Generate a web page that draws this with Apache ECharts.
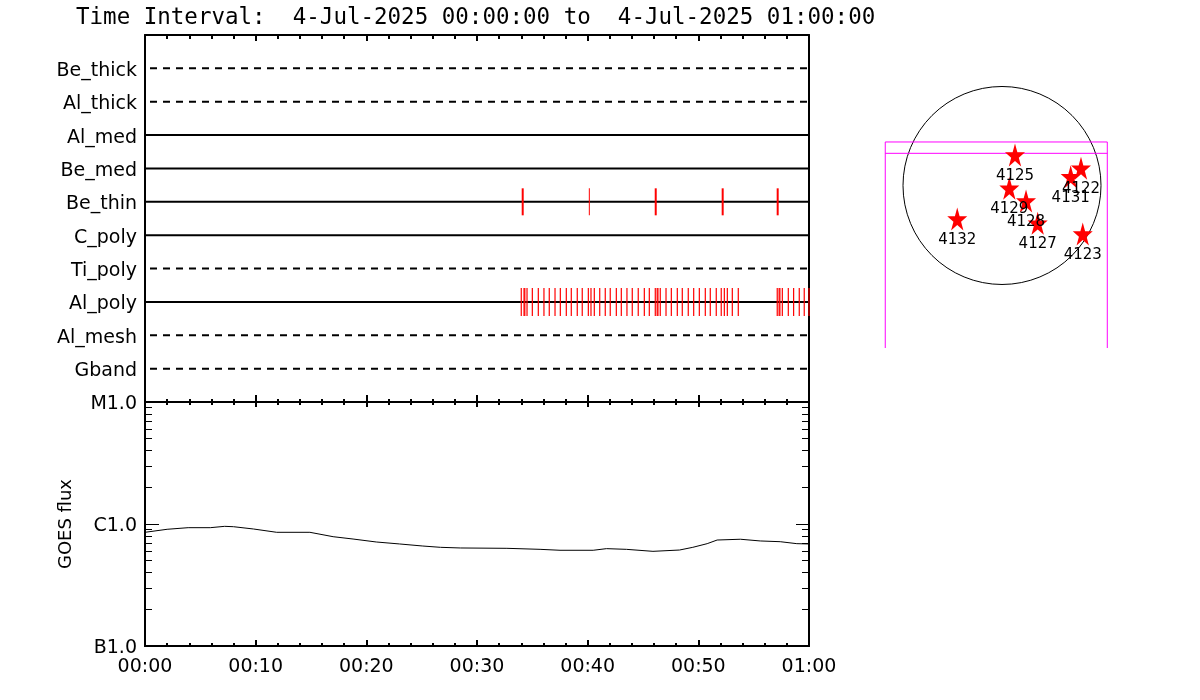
<!DOCTYPE html>
<html>
<head>
<meta charset="utf-8">
<title>Channel events and GOES flux, 4-Jul-2025</title>
<script src="https://cdn.jsdelivr.net/npm/echarts@6/dist/echarts.min.js"></script>
<style>
  html, body { margin: 0; padding: 0; background: #fff; }
  #chart { width: 1200px; height: 700px; }
</style>
</head>
<body>
<div id="chart"></div>
<script>
// channel rows, top to bottom; dashed rows have no data
const channels = ['Be_thick', 'Al_thick', 'Al_med', 'Be_med', 'Be_thin', 'C_poly', 'Ti_poly', 'Al_poly', 'Al_mesh', 'Gband'];
const channelHasData = [false, false, true, true, true, true, false, true, false, false];

// event times in minutes after 00:00
const beThinTimes = [34.13, 46.15, 52.2, 57.17];
const beThinWeakTimes = [40.15];
const alPolyTimes = [34.0, 34.25, 34.32, 34.52, 35.0, 35.54, 36.05, 36.53, 37.05, 37.53, 38.07, 38.52,
  39.06, 39.51, 40.06, 40.3, 40.6, 41.09, 41.59, 42.04, 42.59, 43.04, 43.55, 44.03, 44.57, 45.12,
  45.57, 46.11, 46.28, 46.35, 46.56, 47.08, 47.56, 48.1, 48.55, 49.09, 49.58, 50.09, 50.63, 51.08,
  51.62, 52.07, 52.35, 52.62, 53.07, 53.61, 57.13, 57.3, 57.37, 57.59, 58.13, 58.61, 59.12, 59.57, 60.0];

// GOES flux (W/m^2)
const goesTime = [0, 2, 3.9, 5.9, 7.2, 8, 9.8, 11.9, 14.9, 17, 18.8, 20.9, 23, 25.1, 26.7, 28.5,
  32.7, 35.7, 37.5, 40.5, 41.7, 43.5, 45.9, 48.3, 49.5, 50.8, 51.7, 53.8, 55.6, 57.4, 58.9, 60];
const goesFlux = [8.55e-7, 9.05e-7, 9.33e-7, 9.33e-7, 9.57e-7, 9.5e-7, 9.1e-7, 8.55e-7, 8.55e-7, 7.87e-7,
  7.53e-7, 7.12e-7, 6.86e-7, 6.6e-7, 6.44e-7, 6.36e-7, 6.32e-7, 6.2e-7, 6.09e-7, 6.09e-7, 6.28e-7,
  6.2e-7, 5.97e-7, 6.12e-7, 6.44e-7, 6.9e-7, 7.39e-7, 7.5e-7, 7.26e-7, 7.16e-7, 6.9e-7, 6.86e-7];
const goesLevels = {'-7': 'B1.0', '-6': 'C1.0', '-5': 'M1.0'};

// active regions on the disc (arcsec)
const arNames = ['4125', '4122', '4131', '4129', '4128', '4127', '4132', '4123'];
const arX = [126, 766, 666, 71, 233, 346, -434, 783];
const arY = [296, 167, 85, -27, -150, -367, -325, -470];
const sunRadius = 960;
// field of view box (arcsec)
const fovLeft = -1132, fovRight = 1021, fovTop = 422, fovInner = 312, fovBottom = -1576;

const font = 'DejaVu Sans';
const starPath = 'path://M0,-1L0.2245,-0.309L0.951,-0.309L0.363,0.118L0.588,0.809L0,0.382L-0.588,0.809L-0.363,0.118L-0.951,-0.309L-0.2245,-0.309Z';
// labels sit a little low, like the original
const lowLabel = { r: { color: '#000', fontFamily: font, fontSize: 19, padding: [5, 0, 0, 0] } };

function rowValue(i) { return channels.length - i; }

function minuteLabel(v) {
  if (v >= 60) return '01:00';
  return '00:' + String(v).padStart(2, '0');
}

// log minor tick values inside the plotted decades
const goesMajor = [-7, -6, -5];
const goesMinor = [];
[-7, -6].forEach(d => { for (let k = 2; k <= 9; k++) goesMinor.push(d + Math.log10(k)); });

function timeAxis(grid, pos, tickLen, minorLen, showLabel) {
  return {
    type: 'value', gridIndex: grid, position: pos, min: 0, max: 60, interval: 10,
    axisLine: { onZero: false, lineStyle: { color: '#000', width: 2 } },
    axisTick: { inside: true, length: tickLen, lineStyle: { color: '#000', width: 2 } },
    minorTick: { show: true, splitNumber: 5, length: minorLen, lineStyle: { color: '#000', width: 2 } },
    axisLabel: { show: showLabel, formatter: minuteLabel, color: '#000', fontFamily: font, fontSize: 19, margin: 12 },
    splitLine: { show: false }
  };
}

function fluxAxis(pos, ticks, len, extra) {
  return Object.assign({
    type: 'value', gridIndex: 1, position: pos, min: -7, max: -5, interval: 1,
    axisLine: { onZero: false, lineStyle: { color: '#000', width: 2 } },
    axisTick: { inside: true, customValues: ticks, length: len, lineStyle: { color: '#000', width: 1 } },
    axisLabel: { show: false },
    splitLine: { show: false }
  }, extra || {});
}

const series = [];

channels.forEach((name, i) => {
  series.push({
    type: 'line', xAxisIndex: 0, yAxisIndex: 0, silent: true, symbol: 'none', z: 2,
    data: [[0, rowValue(i)], [60, rowValue(i)]],
    lineStyle: { color: '#000', width: 2, type: channelHasData[i] ? 'solid' : [7, 6], dashOffset: -5 }
  });
});

const beThinRow = rowValue(channels.indexOf('Be_thin'));
const alPolyRow = rowValue(channels.indexOf('Al_poly'));

series.push({
  type: 'scatter', xAxisIndex: 0, yAxisIndex: 0, symbol: 'rect', symbolSize: [2, 27], z: 3, silent: true,
  itemStyle: { color: '#ff0000', opacity: 1 }, data: beThinTimes.map(t => [t, beThinRow])
});
series.push({
  type: 'scatter', xAxisIndex: 0, yAxisIndex: 0, symbol: 'rect', symbolSize: [1, 27], z: 3, silent: true,
  itemStyle: { color: '#ff0000', opacity: 1 }, data: beThinWeakTimes.map(t => [t, beThinRow])
});
series.push({
  type: 'scatter', xAxisIndex: 0, yAxisIndex: 0, symbol: 'rect', symbolSize: [1.2, 28], z: 3, silent: true,
  clip: false, itemStyle: { color: '#ff0000', opacity: 1 }, data: alPolyTimes.map(t => [t, alPolyRow])
});

// GOES curve, plotted as log10(flux) on a linear axis
series.push({
  type: 'line', xAxisIndex: 2, yAxisIndex: 2, symbol: 'none', silent: true,
  lineStyle: { color: '#000', width: 1 },
  data: goesTime.map((t, i) => [t, Math.log10(goesFlux[i])])
});

// solar disc
series.push({
  type: 'custom', xAxisIndex: 4, yAxisIndex: 6, silent: true,
  data: [[0, 0, sunRadius]],
  renderItem: function (params, api) {
    const c = api.coord([api.value(0), api.value(1)]);
    const r = api.size([api.value(2), 0])[0];
    return { type: 'circle', shape: { cx: c[0], cy: c[1], r: r }, style: { fill: 'none', stroke: '#000', lineWidth: 1 } };
  }
});

series.push({
  type: 'line', xAxisIndex: 4, yAxisIndex: 6, symbol: 'none', silent: true,
  lineStyle: { color: '#ff00ff', width: 1 },
  data: [[fovLeft, fovBottom], [fovLeft, fovTop], [fovRight, fovTop], [fovRight, fovBottom]]
});
series.push({
  type: 'line', xAxisIndex: 4, yAxisIndex: 6, symbol: 'none', silent: true,
  lineStyle: { color: '#ff00ff', width: 1 },
  data: [[fovLeft, fovInner], [fovRight, fovInner]]
});

series.push({
  type: 'scatter', xAxisIndex: 4, yAxisIndex: 6, symbol: starPath, symbolSize: [20, 23], z: 5, silent: true,
  itemStyle: { color: '#ff0000', opacity: 1 },
  label: {
    show: true, position: 'bottom', distance: 2, color: '#000', fontFamily: font, fontSize: 15,
    formatter: p => p.data[2]
  },
  data: arNames.map((n, i) => [arX[i], arY[i], n])
});

const option = {
  backgroundColor: '#fff',
  animation: false,
  textStyle: { fontFamily: font },
  title: {
    text: 'Time Interval:  4-Jul-2025 00:00:00 to  4-Jul-2025 01:00:00',
    left: 76, top: 7, padding: 0,
    textStyle: { fontFamily: 'DejaVu Sans Mono', fontSize: 22.5, fontWeight: 'normal', color: '#000' }
  },
  grid: [
    { left: 145, top: 35, width: 664, height: 367 },
    { left: 145, top: 402, width: 664, height: 244 },
    { left: 878.25, top: 113.3, width: 247.5, height: 247.5 }
  ],
  xAxis: [
    timeAxis(0, 'bottom', 7, 3, false),
    timeAxis(0, 'top', 6, 4, false),
    timeAxis(1, 'bottom', 6, 3, true),
    timeAxis(1, 'top', 5, 3, false),
    { type: 'value', gridIndex: 2, min: -1200, max: 1200, show: false }
  ],
  yAxis: [
    {
      type: 'value', gridIndex: 0, position: 'left', min: 0, max: 11, interval: 1,
      axisLine: { onZero: false, lineStyle: { color: '#000', width: 2 } },
      axisTick: { show: false },
      axisLabel: {
        color: '#000', fontFamily: font, fontSize: 19, margin: 8, rich: lowLabel,
        formatter: v => (v >= 1 && v <= channels.length ? '{r|' + channels[channels.length - v] + '}' : '')
      },
      splitLine: { show: false }
    },
    {
      type: 'value', gridIndex: 0, position: 'right', min: 0, max: 11,
      axisLine: { onZero: false, lineStyle: { color: '#000', width: 2 } },
      axisTick: { show: false }, axisLabel: { show: false }, splitLine: { show: false }
    },
    fluxAxis('left', goesMajor, 14, {
      name: 'GOES flux', nameLocation: 'middle', nameRotate: 90, nameGap: 70,
      nameTextStyle: { color: '#000', fontFamily: font, fontSize: 18 },
      axisLabel: {
        show: true, color: '#000', fontFamily: font, fontSize: 19, margin: 8, rich: lowLabel,
        formatter: v => (goesLevels[String(v)] ? '{r|' + goesLevels[String(v)] + '}' : '')
      }
    }),
    fluxAxis('left', goesMinor, 7),
    fluxAxis('right', goesMajor, 13),
    fluxAxis('right', goesMinor, 7),
    { type: 'value', gridIndex: 2, min: -1700, max: 700, show: false }
  ],
  series: series
};

const chart = echarts.init(document.getElementById('chart'));
chart.setOption(option);
</script>
</body>
</html>
